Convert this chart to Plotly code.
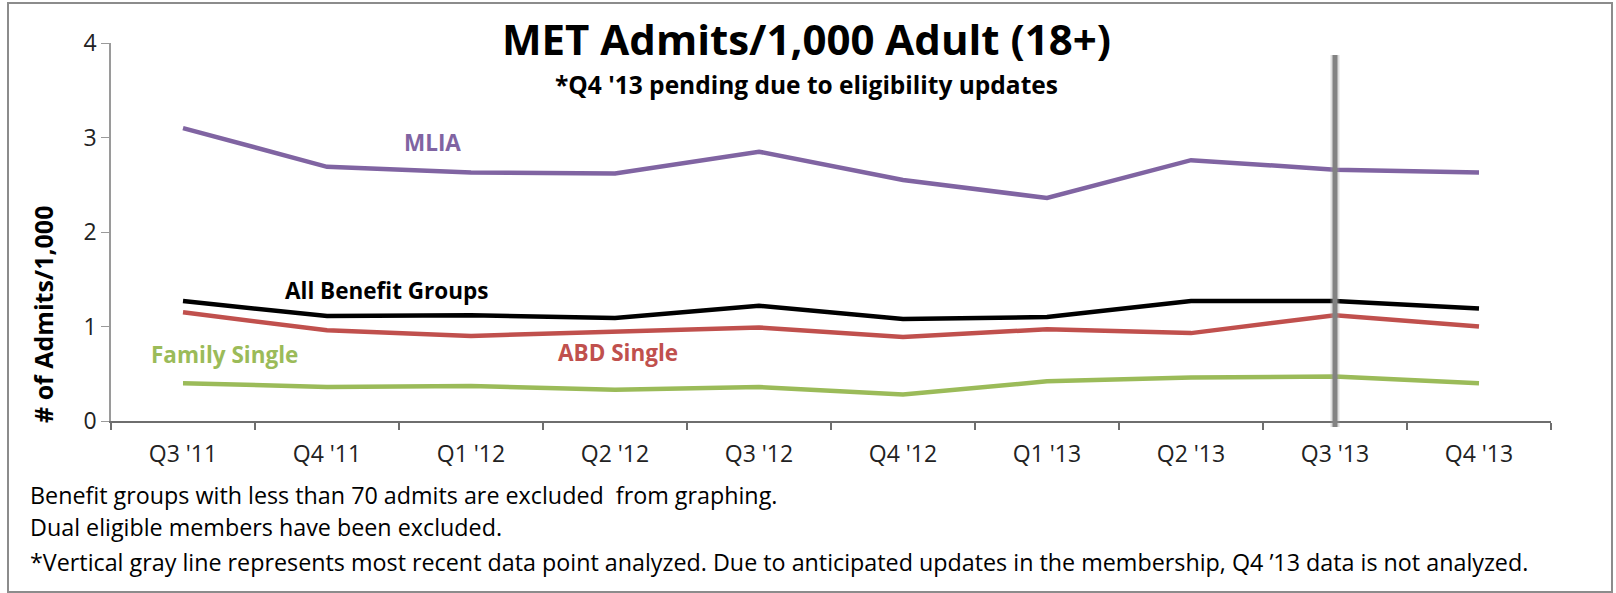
import plotly.graph_objects as go

quarters = ["Q3 '11", "Q4 '11", "Q1 '12", "Q2 '12", "Q3 '12", "Q4 '12", "Q1 '13", "Q2 '13", "Q3 '13", "Q4 '13"]
mlia = [3.10, 2.69, 2.63, 2.62, 2.85, 2.55, 2.36, 2.76, 2.66, 2.63]
all_groups = [1.27, 1.11, 1.12, 1.09, 1.22, 1.08, 1.10, 1.27, 1.27, 1.19]
abd_single = [1.15, 0.96, 0.90, 0.95, 0.99, 0.89, 0.97, 0.93, 1.12, 1.00]
family_single = [0.40, 0.36, 0.37, 0.33, 0.36, 0.28, 0.42, 0.46, 0.47, 0.40]
y_ticks = [0, 1, 2, 3, 4]
last_analyzed = "Q3 '13"

FONT = "'Open Sans', Lato, sans-serif"
W, H = 1616, 593
L, R, T, B = 111, 65, 43, 172
PW, PH = W - L - R, H - T - B


def px_x(px):
    return (px - L) / PW


def px_y(py):
    return (H - B - py) / PH


fig = go.Figure()
series = [
    ("MLIA", mlia, "#8064A2"),
    ("All Benefit Groups", all_groups, "#000000"),
    ("ABD Single", abd_single, "#C0504D"),
    ("Family Single", family_single, "#9BBB59"),
]
for name, vals, col in series:
    fig.add_trace(go.Scatter(x=quarters, y=vals, mode="lines", name=name,
                             line=dict(color=col, width=4.5), showlegend=False, hoverinfo="skip"))

# vertical gray line marking most recent analyzed point
fig.add_shape(type="line", xref="x", yref="paper", x0=last_analyzed, x1=last_analyzed,
              y0=px_y(427), y1=px_y(55), line=dict(color="rgba(160,160,160,0.35)", width=9), layer="above")
fig.add_shape(type="line", xref="x", yref="paper", x0=last_analyzed, x1=last_analyzed,
              y0=px_y(427), y1=px_y(55), line=dict(color="#828282", width=5), layer="above")

# outer border
fig.add_shape(type="rect", xref="paper", yref="paper", x0=px_x(8), x1=px_x(1612), y0=px_y(592), y1=px_y(3),
              line=dict(color="#8c8c8c", width=2), fillcolor="rgba(0,0,0,0)", layer="below")

ann = []
ann.append(dict(text="<b>MET Admits/1,000 Adult (18+)</b>", x=px_x(806), y=px_y(39), xref="paper", yref="paper",
                showarrow=False, font=dict(family=FONT, size=42, color="#000"), xanchor="center", yanchor="middle"))
ann.append(dict(text="<b>*Q4 '13 pending due to eligibility updates</b>", x=px_x(806), y=px_y(84), xref="paper",
                yref="paper", showarrow=False, font=dict(family=FONT, size=24.5, color="#000"),
                xanchor="center", yanchor="middle"))
ann.append(dict(text="<b># of Admits/1,000</b>", x=px_x(43), y=px_y(315), xref="paper", yref="paper",
                showarrow=False, textangle=-90, font=dict(family=FONT, size=25, color="#000"),
                xanchor="center", yanchor="middle"))

labels = [
    ("MLIA", 1.736, 2.95, "#8064A2"),
    ("All Benefit Groups", 1.41, 1.385, "#000000"),
    ("Family Single", 0.29, 0.70, "#9BBB59"),
    ("ABD Single", 3.02, 0.73, "#C0504D"),
]
for txt, xi, yv, col in labels:
    ann.append(dict(text="<b>%s</b>" % txt, x=xi, y=yv, xref="x", yref="y", showarrow=False,
                    font=dict(family=FONT, size=22.5, color=col), xanchor="center", yanchor="middle"))

notes = [
    ("Benefit groups with less than 70 admits are excluded  from graphing.", 495),
    ("Dual eligible members have been excluded.", 527),
    ("*Vertical gray line represents most recent data point analyzed. Due to anticipated updates in the membership, Q4 \u201913 data is not analyzed.", 562),
]
for txt, py in notes:
    ann.append(dict(text=txt, x=px_x(28), y=px_y(py), xref="paper", yref="paper", showarrow=False,
                    font=dict(family=FONT, size=23.3, color="#000"), xanchor="left", yanchor="middle"))

fig.update_layout(
    width=W, height=H,
    margin=dict(l=L, r=R, t=T, b=B, autoexpand=False),
    paper_bgcolor="white", plot_bgcolor="white",
    annotations=ann,
    xaxis=dict(type="category", categoryorder="array", categoryarray=quarters, range=[-0.5, 9.5],
               showline=True, linecolor="#6e6e6e", linewidth=2, ticks="outside", tickson="boundaries",
               ticklen=7, tickwidth=1.5, tickcolor="#6e6e6e", showgrid=False, zeroline=False,
               tickfont=dict(family=FONT, size=23, color="#222"), ticklabelstandoff=11),
    yaxis=dict(range=[0, 4], tickvals=y_ticks, showline=True, linecolor="#9a9a9a", linewidth=1.5,
               ticks="outside", ticklen=8, tickcolor="#9a9a9a", showgrid=False, zeroline=False,
               tickfont=dict(family=FONT, size=23, color="#222")),
)

fig.write_html("out.html", config={"displayModeBar": False},
               post_script="document.body.style.margin='0px';")
